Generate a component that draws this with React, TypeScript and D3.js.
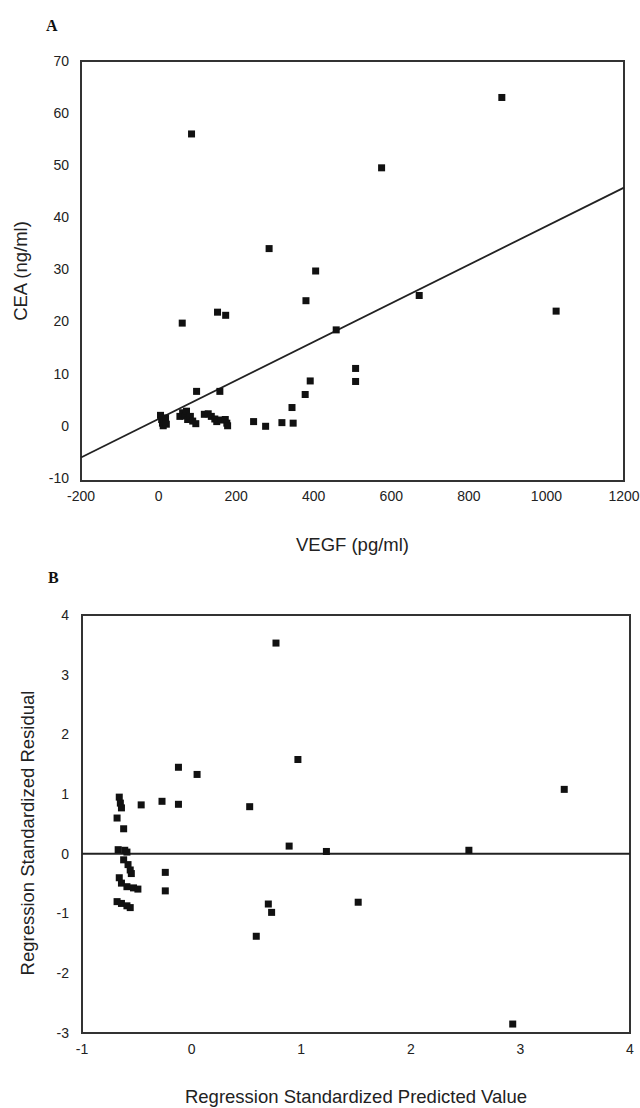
import React from "react";
import * as d3 from "d3";

// Panel A: VEGF (pg/ml) vs CEA (ng/ml)
const vegf = [5, 8, 10, 12, 15, 18, 20, 55, 62, 68, 72, 75, 82, 88, 96, 98, 118, 128, 136, 145, 150, 158, 160, 172, 176, 178, 61, 152, 173, 85, 245, 276, 285, 318, 344, 347, 378, 380, 391, 405, 458, 508, 508, 575, 672, 885, 1025];
const cea = [2.0, 1.2, 0.5, 0.0, 0.8, 1.5, 0.3, 1.8, 2.5, 1.9, 2.8, 1.2, 1.8, 0.9, 0.4, 6.6, 2.2, 2.3, 1.8, 1.3, 0.8, 6.6, 1.1, 1.2, 0.5, 0.0, 19.7, 21.8, 21.2, 56, 0.8, -0.1, 34, 0.6, 3.5, 0.5, 6.0, 24, 8.6, 29.7, 18.4, 11, 8.5, 49.5, 25, 63, 22];
const regIntercept = 1.3;
const regSlope = 0.037;
const xTicksA = [-200, 0, 200, 400, 600, 800, 1000, 1200];
const yTicksA = [-10, 0, 10, 20, 30, 40, 50, 60, 70];

// Panel B: standardized predicted value vs standardized residual
const predicted = [-0.66, -0.65, -0.64, -0.68, -0.62, -0.67, -0.61, -0.59, -0.62, -0.58, -0.56, -0.55, -0.66, -0.64, -0.59, -0.53, -0.49, -0.68, -0.64, -0.59, -0.56, -0.46, -0.27, -0.12, -0.12, 0.05, -0.24, -0.24, 0.53, 0.59, 0.70, 0.73, 0.77, 0.89, 0.97, 1.23, 1.52, 2.53, 2.93, 3.40];
const residual = [0.95, 0.85, 0.77, 0.60, 0.42, 0.07, 0.06, 0.03, -0.10, -0.18, -0.27, -0.33, -0.40, -0.49, -0.55, -0.57, -0.59, -0.80, -0.83, -0.87, -0.90, 0.82, 0.88, 0.83, 1.45, 1.33, -0.31, -0.62, 0.79, -1.38, -0.84, -0.98, 3.53, 0.13, 1.58, 0.04, -0.81, 0.06, -2.85, 1.08];
const xTicksB = [-1, 0, 1, 2, 3, 4];
const yTicksB = [-3, -2, -1, 0, 1, 2, 3, 4];

const SANS = "'Liberation Sans', Arial, sans-serif";
const SERIF = "'Liberation Serif', 'Times New Roman', serif";

export default function App() {
  // Panel A geometry
  const aL = 81, aR = 624, aT = 61, aB = 481;
  const xA = d3.scaleLinear().domain([-200, 1200]).range([aL, aR]);
  const yA = d3.scaleLinear().domain([-10.6, 70]).range([aB, aT]);
  const regLine = d3.line<number>().x((v) => xA(v)).y((v) => yA(regIntercept + regSlope * v));

  // Panel B geometry
  const bL = 82, bR = 630, bT = 615, bB = 1033;
  const xB = d3.scaleLinear().domain([-1, 4]).range([bL, bR]);
  const yB = d3.scaleLinear().domain([-3, 4]).range([bB, bT]);

  const ms = 7;
  const ink = "#111";
  const frame = "#333";
  const tickFs = 14;
  const titleFs = 18.5;

  return (
    <svg width={640} height={1108} style={{ position: "absolute", left: 0, top: 0, background: "#fff" }}>
      <rect x={0} y={0} width={640} height={1108} fill="#fff" />
      {/* Panel A */}
      <text x={46} y={31} fontFamily={SERIF} fontWeight="bold" fontSize={16} fill={ink}>A</text>
      <rect x={aL} y={aT} width={aR - aL} height={aB - aT} fill="none" stroke={frame} strokeWidth={2} />
      {yTicksA.map((t) => (
        <text key={"ya" + t} x={69} y={yA(t)} dy="0.35em" textAnchor="end" fontFamily={SANS} fontSize={tickFs} fill="#222">{t}</text>
      ))}
      {xTicksA.map((t) => (
        <text key={"xa" + t} x={xA(t)} y={496} dy="0.35em" textAnchor="middle" fontFamily={SANS} fontSize={tickFs} fill="#222">{t}</text>
      ))}
      <text transform={`translate(21,${(aT + aB) / 2}) rotate(-90)`} textAnchor="middle" dy="0.35em" fontFamily={SANS} fontSize={titleFs} fill="#222">CEA (ng/ml)</text>
      <text x={(aL + aR) / 2} y={545} dy="0.35em" textAnchor="middle" fontFamily={SANS} fontSize={titleFs} fill="#222">VEGF (pg/ml)</text>
      <path d={regLine(xA.domain()) || ""} fill="none" stroke="#222" strokeWidth={1.8} />
      {vegf.map((v, i) => (
        <rect key={"pa" + i} x={xA(v) - ms / 2} y={yA(cea[i]) - ms / 2} width={ms} height={ms} fill={ink} />
      ))}

      {/* Panel B */}
      <text x={48} y={583} fontFamily={SERIF} fontWeight="bold" fontSize={16} fill={ink}>B</text>
      <rect x={bL} y={bT} width={bR - bL} height={bB - bT} fill="none" stroke={frame} strokeWidth={2} />
      <line x1={bL} x2={bR} y1={yB(0)} y2={yB(0)} stroke="#222" strokeWidth={2} />
      {yTicksB.map((t) => (
        <text key={"yb" + t} x={69} y={yB(t)} dy="0.35em" textAnchor="end" fontFamily={SANS} fontSize={tickFs} fill="#222">{t}</text>
      ))}
      {xTicksB.map((t) => (
        <text key={"xb" + t} x={xB(t)} y={1049} dy="0.35em" textAnchor="middle" fontFamily={SANS} fontSize={tickFs} fill="#222">{t}</text>
      ))}
      <text transform={`translate(28,${(bT + bB) / 2 + 9}) rotate(-90)`} textAnchor="middle" dy="0.35em" fontFamily={SANS} fontSize={titleFs} fill="#222">Regression Standardized Residual</text>
      <text x={(bL + bR) / 2} y={1097} dy="0.35em" textAnchor="middle" fontFamily={SANS} fontSize={titleFs} fill="#222">Regression Standardized Predicted Value</text>
      {predicted.map((v, i) => (
        <rect key={"pb" + i} x={xB(v) - ms / 2} y={yB(residual[i]) - ms / 2} width={ms} height={ms} fill={ink} />
      ))}
    </svg>
  );
}
